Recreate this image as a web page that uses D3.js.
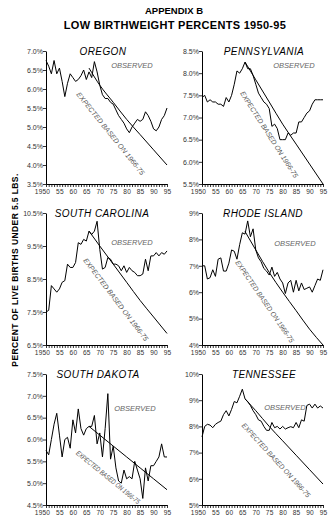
<!DOCTYPE html>
<html>
<head>
<meta charset="utf-8">
<script src="https://cdn.jsdelivr.net/npm/d3@7/dist/d3.min.js"></script>
<style>
  html, body { margin: 0; padding: 0; background: #fff; }
  svg { display: block; }
  text { font-family: "Liberation Sans", Arial, Helvetica, sans-serif; }
</style>
</head>
<body>
<svg id="chart" width="328" height="521"></svg>
<script>
// Years of observation
const years = [1950,1951,1952,1953,1954,1955,1956,1957,1958,1959,
               1960,1961,1962,1963,1964,1965,1966,1967,1968,1969,
               1970,1971,1972,1973,1974,1975,1976,1977,1978,1979,
               1980,1981,1982,1983,1984,1985,1986,1987,1988,1989,
               1990,1991,1992,1993,1994,1995];

// Years at which the 1966-75 trend projection is tabulated
const expectedYears = [1966, 1970, 1975, 1980, 1985, 1990, 1995];

// Observed percent of live births under 5.5 lbs
const oregonObserved = [6.75,6.6,6.4,6.75,6.4,6.55,6.2,5.8,6.15,6.4,
                        6.3,6.2,6.25,6.35,6.5,6.25,6.45,6.3,6.72,6.45,
                        6.1,5.85,5.75,5.75,5.65,5.6,5.45,5.3,5.2,5.1,
                        4.95,4.85,5.0,5.1,5.2,5.15,5.2,5.4,5.3,5.15,
                        4.95,4.9,5.0,5.2,5.3,5.5];
const pennsylvaniaObserved = [7.45,7.5,7.35,7.4,7.35,7.35,7.3,7.3,7.25,7.45,
                              7.35,7.5,7.75,8.05,8.0,8.1,8.25,8.1,8.1,7.95,
                              7.75,7.55,7.45,7.35,7.3,7.2,6.8,6.85,6.75,6.5,
                              6.5,6.5,6.65,6.6,6.65,6.65,6.9,6.9,7.0,7.1,
                              7.15,7.3,7.4,7.4,7.4,7.4];
const southCarolinaObserved = [7.5,7.55,8.3,8.2,8.1,8.2,8.4,8.45,8.95,8.85,
                               8.85,9.0,9.6,9.55,9.7,9.65,9.95,9.85,9.95,10.25,
                               9.4,8.8,8.85,9.15,9.1,8.95,8.95,8.9,8.75,8.9,
                               8.7,8.85,8.75,8.7,8.6,8.6,8.65,9.1,8.75,9.2,
                               9.2,9.3,9.2,9.3,9.25,9.35];
const rhodeIslandObserved = [7.0,7.0,6.5,6.55,6.85,6.6,7.25,7.3,6.8,6.8,
                             7.1,7.6,7.55,7.25,7.8,8.25,8.2,8.7,8.1,8.4,
                             7.6,7.3,7.15,6.9,6.8,6.65,6.95,6.6,6.75,6.5,
                             6.35,5.95,6.35,6.45,6.0,6.45,6.05,6.35,6.1,6.15,
                             6.2,6.0,6.25,6.5,6.45,6.85];
const southDakotaObserved = [5.75,5.65,6.0,6.35,6.6,6.1,5.6,6.0,6.05,5.8,
                             6.45,6.15,6.7,6.25,6.1,6.25,6.3,6.3,6.55,5.9,
                             6.15,5.6,6.25,7.05,5.55,5.85,5.35,5.05,5.0,5.3,
                             5.1,5.15,5.1,5.5,5.3,5.1,4.65,5.35,5.05,5.4,
                             5.4,5.5,5.6,5.9,5.6,5.6];
const tennesseeObserved = [7.6,8.0,8.08,8.05,7.95,8.08,8.15,8.2,8.45,8.6,
                           8.4,8.65,8.95,8.9,9.15,9.42,9.05,8.95,8.8,8.6,
                           8.45,8.25,8.2,8.0,7.85,7.85,8.15,7.95,8.0,7.9,
                           8.0,7.9,7.95,7.99,7.95,8.15,7.95,8.25,8.2,8.8,
                           8.85,8.7,8.85,8.7,8.78,8.7];

// Expected values projected from the 1966-75 trend
const oregonExpected        = [6.55, 6.1, 5.65, 5.2, 4.8, 4.4, 4.0];
const pennsylvaniaExpected  = [8.25, 7.85, 7.35, 6.85, 6.4, 5.95, 5.5];
const southCarolinaExpected = [9.95, 9.5, 8.95, 8.4, 7.85, 7.35, 6.85];
const rhodeIslandExpected   = [8.3, 7.6, 6.75, 6.0, 5.3, 4.6, 4.0];
const southDakotaExpected   = [6.3, 6.1, 5.85, 5.6, 5.35, 5.1, 4.85];
const tennesseeExpected     = [9.05, 8.6, 8.0, 7.45, 6.9, 6.35, 5.8];

// Y-axis tick values
const oregonTicks        = [3.5, 4.0, 4.5, 5.0, 5.5, 6.0, 6.5, 7.0];
const pennsylvaniaTicks  = [5.5, 6.0, 6.5, 7.0, 7.5, 8.0, 8.5];
const southCarolinaTicks = [6.5, 7.5, 8.5, 9.5, 10.5];
const rhodeIslandTicks   = [4, 5, 6, 7, 8, 9];
const southDakotaTicks   = [4.5, 5.0, 5.5, 6.0, 6.5, 7.0, 7.5];
const tennesseeTicks     = [5, 6, 7, 8, 9, 10];

// X-axis labelled years
const xLabelYears = [1950, 1955, 1960, 1965, 1970, 1975, 1980, 1985, 1990, 1995];

const panels = [
  { name: "OREGON",         obs: oregonObserved,        exp: oregonExpected,        ticks: oregonTicks,        fmt: ".1f" },
  { name: "PENNSYLVANIA",   obs: pennsylvaniaObserved,  exp: pennsylvaniaExpected,  ticks: pennsylvaniaTicks,  fmt: ".1f" },
  { name: "SOUTH CAROLINA", obs: southCarolinaObserved, exp: southCarolinaExpected, ticks: southCarolinaTicks, fmt: ".1f" },
  { name: "RHODE ISLAND",   obs: rhodeIslandObserved,   exp: rhodeIslandExpected,   ticks: rhodeIslandTicks,   fmt: "d" },
  { name: "SOUTH DAKOTA",   obs: southDakotaObserved,   exp: southDakotaExpected,   ticks: southDakotaTicks,   fmt: ".1f" },
  { name: "TENNESSEE",      obs: tennesseeObserved,     exp: tennesseeExpected,     ticks: tennesseeTicks,     fmt: "d" }
];

// Panel frames (plot area in page pixels) and label placements
const columns = [{ x0: 46, x1: 167 }, { x0: 202, x1: 323 }];
const rows    = [{ y0: 51, y1: 184 }, { y0: 213, y1: 345 }, { y0: 374, y1: 505 }];
const namePos     = [[103, 55], [264, 55], [102, 217], [263, 217], [98, 378], [264, 378]];
const obsLabelPos = [[132, 68], [294, 68], [132, 245], [295, 246], [135, 411], [285, 410]];
const expLabelPos = [[78, 93], [242, 92], [85, 259], [237, 261], [77, 452], [243, 424]];
const expLabelLen = [104, 101, 102, 98, 80, 98];

const svg = d3.select("#chart");

// Titles
svg.append("text")
  .attr("x", 174).attr("y", 14)
  .attr("text-anchor", "middle")
  .attr("font-size", 9.5).attr("font-weight", "bold")
  .text("APPENDIX B");
svg.append("text")
  .attr("x", 175).attr("y", 29)
  .attr("text-anchor", "middle")
  .attr("font-size", 11).attr("font-weight", "bold")
  .attr("letter-spacing", 0.3)
  .text("LOW BIRTHWEIGHT PERCENTS 1950-95");

// Shared y-axis title
svg.append("text")
  .attr("transform", "translate(15,270) rotate(-90)")
  .attr("text-anchor", "middle")
  .attr("dominant-baseline", "central")
  .attr("font-size", 8.5).attr("font-weight", "bold")
  .attr("letter-spacing", 0.4)
  .text("PERCENT OF LIVE BIRTHS UNDER 5.5 LBS.");

panels.forEach((p, i) => {
  const col = columns[i % 2];
  const row = rows[Math.floor(i / 2)];

  const x = d3.scaleLinear().domain([1950, 1995]).range([col.x0, col.x1]);
  const y = d3.scaleLinear()
    .domain([d3.min(p.ticks), d3.max(p.ticks)])
    .range([row.y1, row.y0]);

  const g = svg.append("g");

  // X axis: a tick every year, labels every five years
  const xAxis = d3.axisBottom(x)
    .tickValues(years)
    .tickSize(3)
    .tickSizeOuter(0)
    .tickFormat(d => xLabelYears.includes(d) ? (d === 1950 ? "1950" : String(d).slice(2)) : "");
  const gx = g.append("g")
    .attr("transform", `translate(0,${row.y1})`)
    .call(xAxis);
  gx.select(".domain").attr("stroke", "#000").attr("stroke-width", 1);
  gx.selectAll(".tick line").attr("stroke", "#000").attr("stroke-width", 0.8);
  gx.selectAll(".tick text")
    .attr("font-family", "'Liberation Sans', Arial, sans-serif")
    .attr("font-size", 6.6).attr("fill", "#333").attr("dy", "0.6em")
    .attr("letter-spacing", 0.2)
    .attr("dx", d => d === 1950 ? -4 : 0);

  // Y axis
  const yAxis = d3.axisLeft(y)
    .tickValues(p.ticks)
    .tickSize(3)
    .tickSizeOuter(0)
    .tickFormat(d => d3.format(p.fmt)(d) + "%");
  const gy = g.append("g")
    .attr("transform", `translate(${col.x0},0)`)
    .call(yAxis);
  gy.select(".domain").attr("stroke", "#000").attr("stroke-width", 1);
  gy.selectAll(".tick line").attr("stroke", "#000").attr("stroke-width", 0.8);
  gy.selectAll(".tick text")
    .attr("font-family", "'Liberation Sans', Arial, sans-serif")
    .attr("font-size", 7).attr("fill", "#333").attr("x", -3);

  const line = d3.line().x(d => x(d[0])).y(d => y(d[1]));

  // Observed series
  g.append("path")
    .datum(years.map((yr, k) => [yr, p.obs[k]]))
    .attr("d", line)
    .attr("fill", "none").attr("stroke", "#000").attr("stroke-width", 1)
    .attr("stroke-linejoin", "round");

  // Expected trend
  const expPts = expectedYears.map((yr, k) => [yr, p.exp[k]]);
  g.append("path")
    .datum(expPts)
    .attr("d", d3.line().x(d => x(d[0])).y(d => y(d[1])).curve(d3.curveMonotoneX))
    .attr("fill", "none").attr("stroke", "#000").attr("stroke-width", 1);

  // State name
  g.append("text")
    .attr("x", namePos[i][0]).attr("y", namePos[i][1])
    .attr("text-anchor", "middle")
    .attr("font-size", 10).attr("font-style", "italic")
    .attr("letter-spacing", 0.4)
    .text(p.name);

  // Series labels
  g.append("text")
    .attr("x", obsLabelPos[i][0]).attr("y", obsLabelPos[i][1])
    .attr("text-anchor", "middle")
    .attr("font-size", 7.5).attr("font-style", "italic").attr("fill", "#666")
    .text("OBSERVED");

  const first = expPts[0], last = expPts[expPts.length - 1];
  const angle = Math.atan2(y(last[1]) - y(first[1]), x(last[0]) - x(first[0])) * 180 / Math.PI;
  g.append("text")
    .attr("transform", `translate(${expLabelPos[i][0]},${expLabelPos[i][1]}) rotate(${angle})`)
    .attr("font-size", 7).attr("font-style", "italic").attr("fill", "#555")
    .attr("textLength", expLabelLen[i]).attr("lengthAdjust", "spacingAndGlyphs")
    .attr("dominant-baseline", "central")
    .text("EXPECTED BASED ON 1966-75");
});
</script>
</body>
</html>
